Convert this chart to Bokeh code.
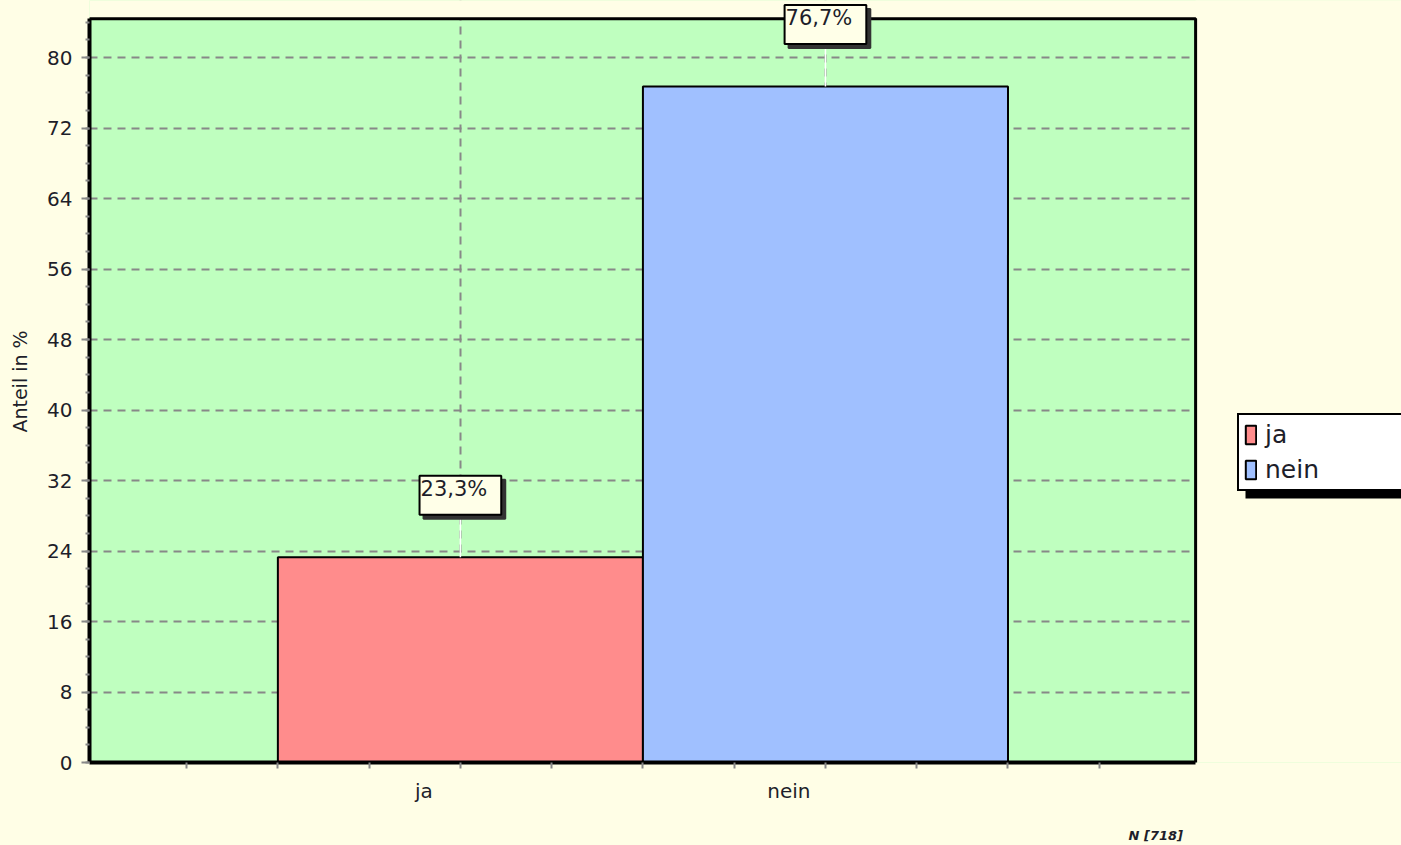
from bokeh.plotting import figure
from bokeh.models import (ColumnDataSource, Range1d, FixedTicker, Label, LinearAxis,
                          Legend, LegendItem, BoxAnnotation, CustomJSTickFormatter)
from bokeh.embed import file_html
from bokeh.resources import INLINE

# ---- data ----
categories = ["ja", "nein"]
shares = [23.3, 76.7]
n_total = 718
y_ticks = [0, 8, 16, 24, 32, 40, 48, 56, 64, 72, 80]
y_label = "Anteil in %"

# ---- style / layout constants ----
bar_colors = ["#FF8C8C", "#A0C0FF"]
FONT = "DejaVu Sans"
TXT = "#1E1E2A"
PAGE_BG = "#FFFEE6"
PLOT_BG = "#BFFFBF"
X0, X1 = -0.016, 3.014      # visible plot area (x)
Y1 = 84.4                   # visible plot area top
XR_END, YR_END = 3.578, 86.47   # frame extended to the right and top (for unclipped annotations)

xs = [i + 1 for i in range(len(categories))]
label_texts = [f"{v:.1f}".replace(".", ",") + "%" for v in shares]
lead_top = [v + 5.4 for v in shares]

src = ColumnDataSource(dict(x=xs, value=shares, cat=categories, color=bar_colors,
                            label=label_texts, lead=lead_top))

p = figure(width=1401, height=845, output_backend="svg", toolbar_location=None,
           x_range=Range1d(X0, XR_END), y_range=Range1d(0, YR_END),
           min_border_left=89, min_border_right=0, min_border_top=0,
           min_border_bottom=83)

p.background_fill_color = PLOT_BG
p.border_fill_color = PAGE_BG
p.outline_line_color = None

# cover the extended frame outside the plot area
p.quad(left=[X0 - 1], right=[XR_END + 1], bottom=[Y1], top=[YR_END + 2],
       fill_color=PAGE_BG, line_color=None)
p.quad(left=[X1], right=[XR_END + 1], bottom=[-2], top=[YR_END + 2],
       fill_color=PAGE_BG, line_color=None)
# plot-area border
p.quad(left=[X0], right=[X1], bottom=[0], top=[Y1], fill_color=None,
       line_color="black", line_width=3)

bars = p.vbar(x="x", top="value", bottom=0, width=1.0, fill_color="color",
              line_color="black", line_width=2, source=src)

# leader lines
p.segment(x0="x", y0="value", x1="x", y1="lead", line_color="white",
          line_width=1.5, source=src)

# grids
p.ygrid.ticker = FixedTicker(ticks=y_ticks)
p.xgrid.ticker = FixedTicker(ticks=xs)
for g in (p.xgrid[0], p.ygrid[0]):
    g.grid_line_color = "#888888"
    g.grid_line_width = 2
    g.grid_line_dash = "8 6"

# y axis
ya = p.yaxis[0]
ya.bounds = (0, Y1)
ya.ticker = FixedTicker(ticks=y_ticks, minor_ticks=list(range(0, 85, 2)))
ya.axis_line_color = "black"
ya.axis_line_width = 4
ya.major_tick_line_color = "#888888"
ya.major_tick_line_width = 2
ya.major_tick_out = 8
ya.major_tick_in = 0
ya.minor_tick_line_color = "#888888"
ya.minor_tick_line_width = 2
ya.minor_tick_out = 4
ya.minor_tick_in = 0
ya.major_label_standoff = 9
ya.major_label_text_font = FONT
ya.major_label_text_font_size = "20px"
ya.major_label_text_color = TXT
ya.axis_label = y_label
ya.axis_label_text_font = FONT
ya.axis_label_text_font_size = "19px"
ya.axis_label_text_font_style = "normal"
ya.axis_label_text_color = TXT
ya.axis_label_standoff = 13

# x axis
xa = p.xaxis[0]
xa.bounds = (X0, X1)
xa.ticker = FixedTicker(ticks=[x - 0.1 for x in xs],
                        minor_ticks=[0.25 * k for k in range(1, 12)])
xa.formatter = CustomJSTickFormatter(args=dict(cats=categories),
                                     code="return cats[Math.round(tick + 0.1) - 1];")
xa.axis_line_color = "black"
xa.axis_line_width = 4
xa.major_tick_line_color = None
xa.major_tick_out = 6
xa.minor_tick_line_color = "#888888"
xa.minor_tick_line_width = 2
xa.minor_tick_out = 6
xa.minor_tick_in = 0
xa.major_label_standoff = 10
xa.major_label_text_font = FONT
xa.major_label_text_font_size = "20px"
xa.major_label_text_color = TXT

# "N [718]" note as a second, tick-less axis below
na = LinearAxis(ticker=FixedTicker(ticks=[2.905], minor_ticks=[]),
                formatter=CustomJSTickFormatter(args=dict(n=n_total),
                                                code="return 'N [' + n + ']';"),
                axis_line_color=None, major_tick_line_color=None,
                minor_tick_line_color=None, major_label_standoff=16,
                major_label_text_font=FONT, major_label_text_font_size="13px",
                major_label_text_font_style="bold italic", major_label_text_color=TXT)
p.add_layout(na, "below")

# value labels with shadow
for x, v, t in zip(xs, shares, label_texts):
    common = dict(x=x, y=v, text=t, text_align="center", text_baseline="middle",
                  text_font=FONT, text_font_size="21px", text_line_height=1.0,
                  padding=(1, 14, 1, 14))
    p.add_layout(Label(x_offset=4, y_offset=58, text_color="#333333",
                       background_fill_color="#333333", border_line_color="#333333",
                       border_line_width=2, **common))
    p.add_layout(Label(x_offset=0, y_offset=62, text_color=TXT,
                       background_fill_color="#FFFFE8", border_line_color="black",
                       border_line_width=2, **common))

# legend shadow + legend
p.add_layout(BoxAnnotation(left=1156, right=1600, bottom=264, top=336,
                           left_units="screen", right_units="screen",
                           bottom_units="screen", top_units="screen",
                           fill_color="black", fill_alpha=1, line_color=None))
legend = Legend(items=[LegendItem(label=c, renderers=[bars], index=i)
                       for i, c in enumerate(categories)],
                location=(1148, 271), margin=0, padding=5, spacing=6,
                glyph_width=13, glyph_height=23, label_height=23, label_width=200,
                label_standoff=8, label_text_font=FONT,
                label_text_font_size="25px", label_text_color=TXT,
                background_fill_color="white", background_fill_alpha=1,
                border_line_color="black", border_line_width=2, border_line_alpha=1)
p.add_layout(legend)

html = file_html(p, INLINE)
html = html.replace("<body>", f'<body style="background-color:{PAGE_BG};">')
open("out.html", "w").write(html)
